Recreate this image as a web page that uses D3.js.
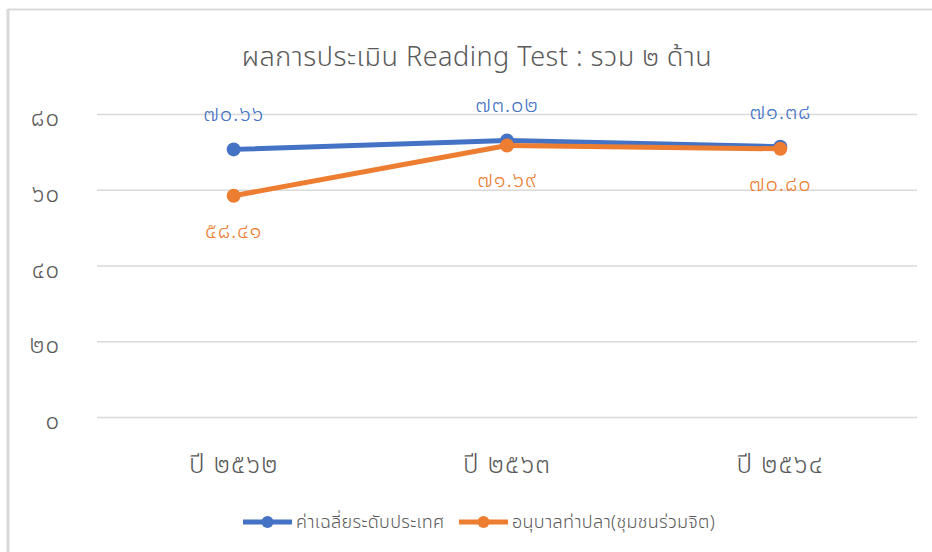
<!DOCTYPE html>
<html><head><meta charset="utf-8">
<script src="https://cdn.jsdelivr.net/npm/d3@7"></script>
<style>body{margin:0;background:#fff;}svg{display:block;font-family:"Noto Sans","Noto Sans Thai",sans-serif;font-weight:300;}</style>
</head><body>
<script>
const categories = ["ปี ๒๕๖๒", "ปี ๒๕๖๓", "ปี ๒๕๖๔"];
const seriesNames = ["ค่าเฉลี่ยระดับประเทศ", "อนุบาลท่าปลา(ชุมชนร่วมจิต)"];
const nationalValues = [70.66, 73.02, 71.38];
const schoolValues = [58.41, 71.69, 70.80];
const yTicks = [0, 20, 40, 60, 80];
const colors = ["#4472C4", "#ED7D31"];
const title = "ผลการประเมิน Reading Test : รวม ๒ ด้าน";

const thaiDigits = "๐๑๒๓๔๕๖๗๘๙";
const toThai = s => String(s).replace(/[0-9]/g, d => thaiDigits[+d]);

const W = 932, H = 552;
const FONT = '"Noto Sans","Noto Sans Thai",sans-serif';
const svg = d3.select("body").append("svg").attr("width", W).attr("height", H);

// chart frame
svg.append("line").attr("x1", 8).attr("x2", W).attr("y1", 9.5).attr("y2", 9.5).attr("stroke", "#d9d9d9").attr("stroke-width", 2);
svg.append("line").attr("x1", 8).attr("x2", 8).attr("y1", 9).attr("y2", H).attr("stroke", "#d9d9d9").attr("stroke-width", 3);

const x = d3.scaleBand().domain(categories).range([97, 917]);
const y = d3.scaleLinear().domain([0, 80]).range([417, 114]);

// gridlines
const yAxis = d3.axisLeft(y).tickValues(yTicks).tickSize(-(917 - 97)).tickFormat(d => toThai(d)).tickPadding(37);
const gy = svg.append("g").attr("transform", "translate(97,0)").call(yAxis).attr("font-family", FONT);
gy.select(".domain").remove();
gy.selectAll(".tick line").attr("stroke", "#d9d9d9").attr("stroke-width", 1.5);
gy.selectAll(".tick text").attr("fill", "#595959").attr("font-size", 24).attr("letter-spacing", 1).attr("y", 4);

// x axis labels
const xAxis = d3.axisBottom(x).tickSize(0).tickPadding(38);
const gx = svg.append("g").attr("transform", "translate(0,417)").call(xAxis).attr("font-family", FONT);
gx.select(".domain").remove();
gx.selectAll(".tick text").attr("fill", "#595959").attr("font-size", 26).attr("letter-spacing", 1.2);

// title
svg.append("text").attr("x", 477).attr("y", 66).attr("text-anchor", "middle")
  .attr("fill", "#595959").attr("font-size", 27).attr("letter-spacing", 0.5).text(title);

const series = [nationalValues, schoolValues];
const cx = c => x(c) + x.bandwidth() / 2;
const line = d3.line().x((d, i) => cx(categories[i])).y(d => y(d));

series.forEach((vals, si) => {
  svg.append("path").datum(vals).attr("d", line).attr("fill", "none")
    .attr("stroke", colors[si]).attr("stroke-width", 5).attr("stroke-linejoin", "round").attr("stroke-linecap", "round");
  svg.selectAll(null).data(vals).enter().append("circle")
    .attr("cx", (d, i) => cx(categories[i])).attr("cy", d => y(d)).attr("r", 7)
    .attr("fill", colors[si]);
});

// labels
svg.selectAll(null).data(nationalValues).enter().append("text")
  .attr("x", (d, i) => cx(categories[i])).attr("y", d => y(d) - 28)
  .attr("text-anchor", "middle").attr("fill", colors[0]).attr("font-size", 22).attr("letter-spacing", 0.8)
  .text(d => toThai(d.toFixed(2)));
svg.selectAll(null).data(schoolValues).enter().append("text")
  .attr("x", (d, i) => cx(categories[i])).attr("y", d => y(d) + 42)
  .attr("text-anchor", "middle").attr("fill", colors[1]).attr("font-size", 22).attr("letter-spacing", 0.8)
  .text(d => toThai(d.toFixed(2)));

// legend
const legendItems = [{x: 243, name: seriesNames[0], c: colors[0]}, {x: 459, name: seriesNames[1], c: colors[1]}];
legendItems.forEach(it => {
  const g = svg.append("g").attr("transform", `translate(${it.x},522)`);
  g.append("line").attr("x1", 0).attr("x2", 49).attr("stroke", it.c).attr("stroke-width", 5);
  g.append("circle").attr("cx", 24.5).attr("r", 6).attr("fill", it.c);
  g.append("text").attr("x", 53).attr("y", 6).attr("fill", "#595959").attr("font-size", 18).attr("letter-spacing", 0.3).text(it.name);
});
</script>
</body></html>
